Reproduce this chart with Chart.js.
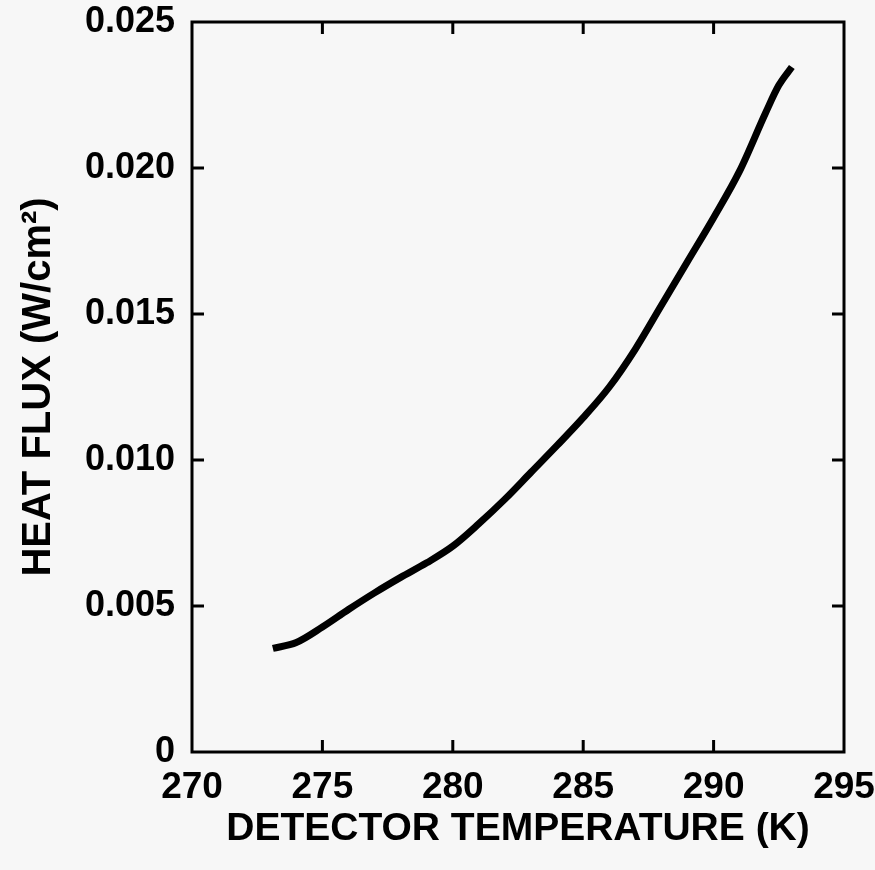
<!DOCTYPE html>
<html>
<head>
<meta charset="utf-8">
<script src="https://cdn.jsdelivr.net/npm/chart.js@4/dist/chart.umd.min.js"></script>
<style>
  html, body { margin: 0; padding: 0; background: #f7f7f7; }
  #wrap { width: 875px; height: 870px; }
</style>
</head>
<body>
<div id="wrap"><canvas id="c" width="875" height="870"></canvas></div>
<script>
// Data
const temperatureK = [273.1, 274.0, 275.0, 276.0, 277.0, 278.0, 279.0, 280.0, 281.0, 282.0, 283.0, 284.0, 285.0, 286.0, 287.0, 288.0, 289.0, 290.0, 291.0, 292.0, 292.5, 293.0];
const heatFlux = [0.00355, 0.00375, 0.00428, 0.00488, 0.00545, 0.00598, 0.00648, 0.00705, 0.00782, 0.00866, 0.00958, 0.01050, 0.01145, 0.01250, 0.01380, 0.01530, 0.01680, 0.01830, 0.01990, 0.02190, 0.02283, 0.02346];
const xTickValues = [270, 275, 280, 285, 290, 295];
const yTickValues = [0, 0.005, 0.010, 0.015, 0.020, 0.025];
const xTitle = 'DETECTOR TEMPERATURE (K)';
const yTitle = 'HEAT FLUX (W/cm\u00B2)';

const FONT = '"Liberation Sans", Arial, Helvetica, sans-serif';

const points = temperatureK.map((t, i) => ({ x: t, y: heatFlux[i] }));

const frameTicks = {
  id: 'frameTicks',
  afterDraw(chart) {
    const { ctx, chartArea: { left, right, top, bottom }, scales: { x, y } } = chart;
    ctx.save();
    ctx.strokeStyle = '#000';
    ctx.lineWidth = 3;
    ctx.strokeRect(left, top, right - left, bottom - top);
    const len = 12;
    x.ticks.forEach(t => {
      if (t.value <= x.min || t.value >= x.max) return;
      const px = x.getPixelForValue(t.value);
      ctx.beginPath();
      ctx.moveTo(px, bottom); ctx.lineTo(px, bottom - len);
      ctx.moveTo(px, top); ctx.lineTo(px, top + len);
      ctx.stroke();
    });
    y.ticks.forEach(t => {
      if (t.value <= y.min || t.value >= y.max) return;
      const py = y.getPixelForValue(t.value);
      ctx.beginPath();
      ctx.moveTo(left, py); ctx.lineTo(left + len, py);
      ctx.moveTo(right, py); ctx.lineTo(right - len, py);
      ctx.stroke();
    });
    ctx.restore();
  }
};

const bgPlugin = {
  id: 'bg',
  beforeDraw(chart) {
    const { ctx, width, height } = chart;
    ctx.save();
    ctx.fillStyle = '#f7f7f7';
    ctx.fillRect(0, 0, width, height);
    ctx.restore();
  }
};

new Chart(document.getElementById('c'), {
  type: 'scatter',
  data: {
    datasets: [{
      data: points,
      showLine: true,
      borderColor: '#000',
      backgroundColor: '#000',
      borderWidth: 7,
      borderCapStyle: 'butt',
      pointRadius: 0,
      cubicInterpolationMode: 'monotone'
    }]
  },
  options: {
    responsive: false,
    animation: false,
    layout: { padding: { left: 0, top: 22, right: 31, bottom: 0 } },
    plugins: { legend: { display: false }, tooltip: { enabled: false } },
    scales: {
      x: {
        type: 'linear',
        min: 270, max: 295,
        afterBuildTicks: s => { s.ticks = xTickValues.map(v => ({ value: v })); },
        afterFit: s => { s.height = 118; s.paddingLeft = 0; s.paddingRight = 0; },
        grid: { display: false, drawTicks: false },
        border: { display: false },
        ticks: {
          color: '#000',
          padding: 14,
          maxRotation: 0,
          font: { family: FONT, size: 37, weight: 'bold' },
          callback: v => String(v)
        },
        title: {
          display: true,
          text: xTitle,
          color: '#000',
          padding: { top: 0, bottom: 17 },
          font: { family: FONT, size: 39, weight: 'bold' }
        }
      },
      y: {
        type: 'linear',
        min: 0, max: 0.025,
        afterBuildTicks: s => { s.ticks = yTickValues.map(v => ({ value: v })); },
        afterFit: s => { s.width = 192; s.paddingTop = 0; s.paddingBottom = 0; },
        grid: { display: false, drawTicks: false },
        border: { display: false },
        ticks: {
          color: '#000',
          padding: 17,
          font: { family: FONT, size: 36, weight: 'bold' },
          callback: v => (v === 0 ? '0' : v.toFixed(3))
        },
        title: {
          display: true,
          text: yTitle,
          color: '#000',
          padding: { top: 15, bottom: 0 },
          font: { family: FONT, size: 40, weight: 'bold' }
        }
      }
    }
  },
  plugins: [bgPlugin, frameTicks]
});
</script>
</body>
</html>
